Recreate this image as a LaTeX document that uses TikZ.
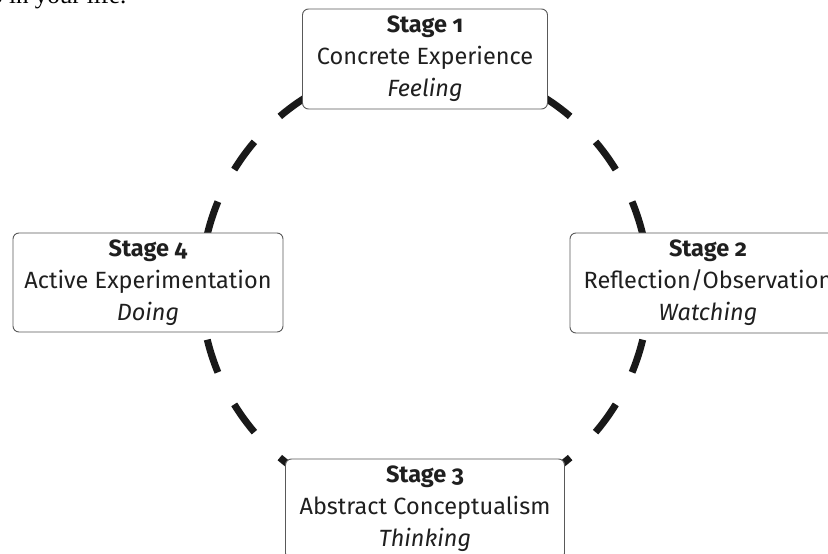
\documentclass[tikz,border=0pt]{standalone}
\usepackage{fontspec}
\newfontfamily\stagefont{Fira Sans}[Numbers=OldStyle]
\newfontfamily\pagefont{Liberation Serif}
\begin{document}
\begin{tikzpicture}[x=1pt, y=1pt,
  stg/.style={draw=black!65, line width=0.9pt, rounded corners=6pt, fill=white,
              align=center, inner sep=0pt, text=black!88,
              font=\stagefont\fontsize{23.5}{32}\selectfont},
  ring/.style={line width=7pt, black!90},
]
  \useasboundingbox (-425,-267) rectangle (403,287);
  \node[anchor=base east, font=\pagefont\fontsize{25}{30}\selectfont] (cut) at (-295,283.5) {o in your life.};
  % one dash every 18 degrees
  \foreach \ang in {0,18,...,342} {
    \draw[ring] (\ang-4.4:224) arc[start angle=\ang-4.4, end angle=\ang+4.4, radius=224];
  }
  \node[stg, minimum width=245pt, minimum height=100pt] (S1) at (0,228)
    {\textbf{Stage 1}\\Concrete Experience\\\textit{Feeling}};
  \node[stg, minimum width=276pt, minimum height=100pt] (S2) at (283,4)
    {\textbf{Stage 2}\\Reflection/Observation\\\textit{Watching}};
  \node[stg, minimum width=279pt, minimum height=100pt] (S3) at (0,-222)
    {\textbf{Stage 3}\\Abstract Conceptualism\\\textit{Thinking}};
  \node[stg, minimum width=270pt, minimum height=99pt] (S4) at (-277,4.5)
    {\textbf{Stage 4}\\Active Experimentation\\\textit{Doing}};
\end{tikzpicture}
\end{document}
